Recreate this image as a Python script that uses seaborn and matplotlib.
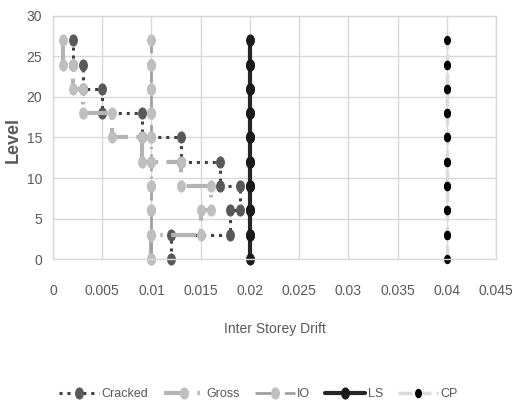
import numpy as np
import pandas as pd
import matplotlib
matplotlib.use("Agg")
import matplotlib.pyplot as plt
import seaborn as sns
from matplotlib.path import Path
from matplotlib.transforms import Affine2D

# ============================================================
# Data
# ============================================================

levels = [0, 3, 6, 9, 12, 15, 18, 21, 24, 27]

# storey drifts, bottom storey first
cracked = [0.012, 0.018, 0.019, 0.017, 0.013, 0.009, 0.005, 0.003, 0.002]
gross = [0.010, 0.015, 0.016, 0.013, 0.009, 0.006, 0.003, 0.002, 0.001]
io_limit = [0.01] * 9
ls_limit = [0.02] * 9
cp_limit = [0.04] * 9

x_ticks = [0, 0.005, 0.01, 0.015, 0.02, 0.025, 0.03, 0.035, 0.04, 0.045]
x_tick_labels = ["0", "0.005", "0.01", "0.015", "0.02", "0.025", "0.03",
                 "0.035", "0.04", "0.045"]
y_ticks = [0, 5, 10, 15, 20, 25, 30]


def step_frame(drifts):
    # each storey drawn from its floor level to its top level
    rows = []
    for i, d in enumerate(drifts):
        rows.append((d, levels[i]))
        rows.append((d, levels[i + 1]))
    return pd.DataFrame(rows, columns=["Drift", "Level"])


# ============================================================
# Style
# ============================================================

sns.set_style("white")
plt.rcParams["font.family"] = ["Liberation Sans", "DejaVu Sans"]

text_col = "#595959"
grid_col = "#d9d9d9"

oval = Path.unit_circle().transformed(Affine2D().scale(0.7, 1.0))

fig = plt.figure(figsize=(5.12, 4.08), dpi=100)
ax = fig.add_axes([0.1035, 0.365, 0.8655, 0.596])

series = [
    ("Cracked", cracked, dict(color="#404040", linestyle=(0, (1, 1.6)), linewidth=2.2,
                              marker=oval, markersize=8, markerfacecolor="#595959",
                              markeredgecolor="#595959")),
    ("Gross", gross, dict(color="#b4b4b4", linestyle=(0, (6, 2, 0.6, 2)), linewidth=3,
                          marker=oval, markersize=8, markerfacecolor="#bfbfbf",
                          markeredgecolor="#bfbfbf")),
    ("IO", io_limit, dict(color="#a0a0a0", linestyle=(0, (6, 2, 0.6, 2)), linewidth=2,
                          marker=oval, markersize=8, markerfacecolor="#bfbfbf",
                          markeredgecolor="#bfbfbf")),
    ("LS", ls_limit, dict(color="#262626", linestyle="-", linewidth=3,
                          marker=oval, markersize=8, markerfacecolor="#1a1a1a",
                          markeredgecolor="#1a1a1a")),
    ("CP", cp_limit, dict(color="#dcdcdc", linestyle=(0, (4, 1.5)), linewidth=2.5,
                          marker=oval, markersize=6, markerfacecolor="#000000",
                          markeredgecolor="#000000")),
]

for name, drifts, style in series:
    sns.lineplot(data=step_frame(drifts), x="Drift", y="Level", sort=False,
                 estimator=None, ax=ax, label=name, clip_on=False, **style)

# ============================================================
# Axes
# ============================================================

ax.set_xlim(0, 0.045)
ax.set_ylim(0, 30)
ax.set_xticks(x_ticks)
ax.set_xticklabels(x_tick_labels)
ax.set_yticks(y_ticks)
ax.grid(True, color=grid_col, linewidth=1)
ax.set_axisbelow(True)
for side in ["left", "bottom", "top", "right"]:
    ax.spines[side].set_color(grid_col)
    ax.spines[side].set_linewidth(1)
ax.tick_params(axis="both", length=0, labelsize=10, labelcolor=text_col)
ax.tick_params(axis="x", pad=18)
ax.tick_params(axis="y", pad=8)

ax.set_xlabel("Inter Storey Drift", fontsize=10, color=text_col, labelpad=17)
ax.set_ylabel("Level", fontsize=13, color=text_col, fontweight="bold")
ax.yaxis.label.set_va("center")
ax.yaxis.set_label_coords(-0.0903, 0.49)

ax.get_legend().remove()
handles, labels = ax.get_legend_handles_labels()
fig.legend(handles, labels, loc="center", bbox_to_anchor=(0.505, 1 - 394 / 408),
           ncol=5, frameon=False, fontsize=9, labelcolor=text_col,
           handlelength=3.2, handletextpad=0.2, columnspacing=1.2)

plt.savefig("out.png", dpi=100)
